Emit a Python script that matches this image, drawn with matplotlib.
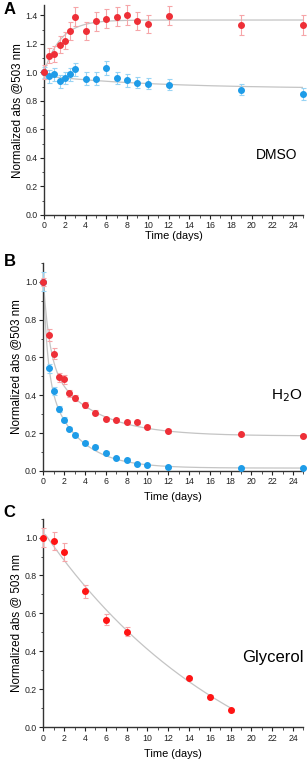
import numpy as np
import matplotlib
matplotlib.use("Agg")
import matplotlib.pyplot as plt
from matplotlib.ticker import MultipleLocator

plt.rcParams['font.family'] = ['Liberation Sans', 'DejaVu Sans']

# ---------------- Data ----------------
# Panel A (DMSO)
a_x_red = [0, 0.5, 1, 1.5, 2, 2.5, 3, 4, 5, 6, 7, 8, 9, 10, 12, 19, 25]
a_y_red = [1.00, 1.118, 1.129, 1.194, 1.222, 1.291, 1.389, 1.291, 1.358, 1.377,
           1.389, 1.405, 1.361, 1.338, 1.398, 1.331, 1.331]
a_e_red = [0.05, 0.055, 0.055, 0.06, 0.06, 0.065, 0.066, 0.065, 0.065, 0.066,
           0.066, 0.07, 0.065, 0.065, 0.066, 0.07, 0.07]
a_x_blue = [0, 0.5, 1, 1.5, 2, 2.5, 3, 4, 5, 6, 7, 8, 9, 10, 12, 19, 25]
a_y_blue = [1.00, 0.972, 0.986, 0.937, 0.960, 0.986, 1.021, 0.956, 0.956, 1.028,
            0.960, 0.944, 0.928, 0.921, 0.914, 0.879, 0.849]
a_e_blue = [0.04, 0.045, 0.045, 0.045, 0.045, 0.045, 0.045, 0.045, 0.045, 0.05,
            0.045, 0.045, 0.04, 0.04, 0.04, 0.04, 0.04]
# fit parameters (A): red rise, blue slow decay
a_fit_red = dict(y0=1.0, amp=0.367, tau=1.6)
a_fit_blue = dict(c=0.885, amp=0.09, tau=11.0)

# Panel B (H2O)
b_x = [0, 0.5, 1, 1.5, 2, 2.5, 3, 4, 5, 6, 7, 8, 9, 10, 12, 19, 25]
b_y_red = [1.00, 0.718, 0.620, 0.495, 0.484, 0.410, 0.386, 0.347, 0.308, 0.275,
           0.269, 0.257, 0.257, 0.232, 0.211, 0.194, 0.185]
b_e_red = [0.02, 0.03, 0.03, 0.025, 0.025, 0.02, 0.015, 0.015, 0.012, 0.01,
           0.01, 0.01, 0.01, 0.01, 0.008, 0.008, 0.008]
b_y_blue = [1.00, 0.542, 0.423, 0.326, 0.271, 0.224, 0.188, 0.148, 0.128, 0.097,
            0.067, 0.060, 0.039, 0.032, 0.021, 0.018, 0.018]
b_e_blue = [0.05, 0.025, 0.02, 0.015, 0.012, 0.01, 0.01, 0.008, 0.008, 0.006,
            0.006, 0.006, 0.005, 0.005, 0.005, 0.005, 0.005]
b_fit_red = dict(c=0.185, a1=0.425, t1=0.6, a2=0.39, t2=4.4)
b_fit_blue = dict(c=0.015, a1=0.5, t1=0.4, a2=0.485, t2=3.0)

# Panel C (Glycerol)
c_x = [0, 1, 2, 4, 6, 8, 14, 16, 18]
c_y = [1.00, 0.981, 0.923, 0.717, 0.568, 0.504, 0.258, 0.162, 0.090]
c_e = [0.05, 0.047, 0.048, 0.035, 0.03, 0.025, 0.008, 0.008, 0.008]
c_fit = dict(c=-0.5, amp=1.53, tau=19.3)

x_ticks = list(range(0, 26, 2))

RED = "#ee2f37"
RED_C = "#ff1414"
RED_ERR = "#f6a5a8"
BLUE = "#1e9ce8"
BLUE_ERR = "#98d4f4"
FIT = "#c4c4c4"

fig = plt.figure(figsize=(3.08, 7.62), dpi=100)

def style(ax, ylim, ylabel, xpad):
    ax.set_xlim(0, 25)
    ax.set_ylim(*ylim)
    ax.spines['top'].set_visible(False)
    ax.spines['right'].set_visible(False)
    for s in ('left', 'bottom'):
        ax.spines[s].set_linewidth(1.0)
        ax.spines[s].set_color('#333333')
    ax.set_xticks(x_ticks)
    ax.xaxis.set_minor_locator(MultipleLocator(1))
    ax.yaxis.set_major_locator(MultipleLocator(0.2))
    ax.yaxis.set_minor_locator(MultipleLocator(0.1))
    ax.yaxis.set_major_formatter(matplotlib.ticker.FormatStrFormatter('%.1f'))
    ax.tick_params(which='major', direction='out', length=3, width=0.8,
                   labelsize=6.3, pad=1.5, colors='#222222')
    ax.tick_params(which='minor', direction='out', length=1.8, width=0.6,
                   colors='#333333')
    ax.set_xlabel("Time (days)", fontsize=7.9, labelpad=xpad)
    ax.set_ylabel(ylabel, fontsize=8.4, labelpad=2)

def pts(ax, x, y, e, col, ecol):
    ax.errorbar(x, y, yerr=e, fmt='o', ms=4.0, color=col, mec=col,
                ecolor=ecol, elinewidth=0.8, capsize=1.8, capthick=0.8,
                zorder=3, clip_on=False)

# ---- Panel A ----
axA = fig.add_axes([0.143, 0.718, 0.842, 0.275])
style(axA, (0, 1.47), "Normalized abs @503 nm", 0.3)
xf = np.linspace(0, 25, 300)
axA.plot(xf, a_fit_red['y0'] + a_fit_red['amp'] * (1 - np.exp(-xf / a_fit_red['tau'])),
         color=FIT, lw=0.9, zorder=2)
axA.plot(xf, a_fit_blue['c'] + a_fit_blue['amp'] * np.exp(-xf / a_fit_blue['tau']),
         color=FIT, lw=0.9, zorder=2)
pts(axA, a_x_blue, a_y_blue, a_e_blue, BLUE, BLUE_ERR)
pts(axA, a_x_red, a_y_red, a_e_red, RED, RED_ERR)
axA.text(24.4, 0.42, "DMSO", fontsize=10, ha='right', va='center')
fig.text(0.012, 0.997, "A", fontsize=12, fontweight='bold', ha='left', va='top')

# ---- Panel B ----
axB = fig.add_axes([0.141, 0.382, 0.844, 0.273])
style(axB, (0, 1.1), "Normalized abs @503 nm", 4)
def biexp(x, p):
    return p['c'] + p['a1'] * np.exp(-x / p['t1']) + p['a2'] * np.exp(-x / p['t2'])
axB.plot(xf, biexp(xf, b_fit_red), color=FIT, lw=0.9, zorder=2)
axB.plot(xf, biexp(xf, b_fit_blue), color=FIT, lw=0.9, zorder=2)
pts(axB, b_x, b_y_blue, b_e_blue, BLUE, BLUE_ERR)
pts(axB, b_x, b_y_red, b_e_red, RED, RED_ERR)
axB.text(24.9, 0.40, "H$_2$O", fontsize=11, ha='right', va='center')
fig.text(0.012, 0.667, "B", fontsize=12, fontweight='bold', ha='left', va='top')

# ---- Panel C ----
axC = fig.add_axes([0.141, 0.0455, 0.844, 0.274])
style(axC, (0, 1.1), "Normalized abs @ 503 nm", 4.5)
xc = np.linspace(0.2, 18, 200)
axC.plot(xc, c_fit['c'] + c_fit['amp'] * np.exp(-xc / c_fit['tau']),
         color=FIT, lw=0.9, zorder=2)
pts(axC, c_x, c_y, c_e, RED_C, RED_ERR)
axC.text(25.0, 0.37, "Glycerol", fontsize=12, ha='right', va='center')
fig.text(0.012, 0.337, "C", fontsize=12, fontweight='bold', ha='left', va='top')

fig.savefig("out.png", dpi=100)
